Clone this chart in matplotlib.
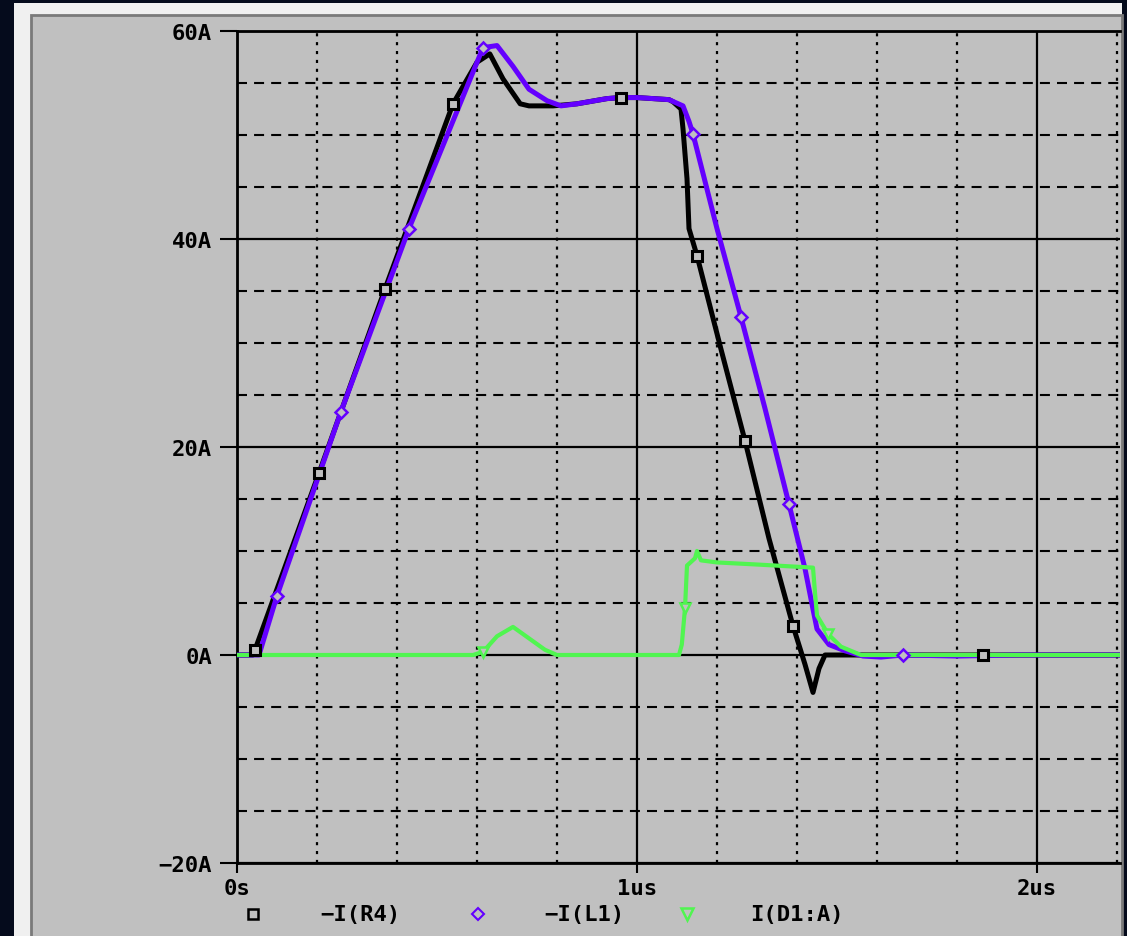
import matplotlib
matplotlib.use("Agg")
import matplotlib.pyplot as plt
from matplotlib.patches import Rectangle
from matplotlib.lines import Line2D
from matplotlib.ticker import MultipleLocator
import numpy as np

# -I(R4)  (time in us, current in A)
r4_t = [0, 0.04, 0.045, 0.205, 0.37, 0.54, 0.6, 0.632, 0.665, 0.708, 0.73, 0.79,
        0.85, 0.925, 0.96, 1.0, 1.08, 1.09, 1.11, 1.115, 1.125, 1.13, 1.15, 1.21,
        1.27, 1.33, 1.39, 1.42, 1.44, 1.455, 1.47, 1.6, 1.865, 2.25]
r4_i = [0, 0, 0.5, 17.5, 35.2, 53.0, 57.0, 57.8, 55.4, 53.0, 52.8, 52.8,
        53.0, 53.5, 53.6, 53.6, 53.4, 53.2, 52.5, 50.6, 45.8, 41.0, 38.4, 29.4,
        20.6, 11.2, 2.8, -0.9, -3.6, -1.3, 0, 0, 0, 0]
r4_marks = [0.045, 0.205, 0.37, 0.54, 0.96, 1.15, 1.27, 1.39, 1.865]

# -I(L1)
l1_t = [0, 0.055, 0.1, 0.26, 0.43, 0.615, 0.65, 0.69, 0.73, 0.775, 0.81, 0.85,
        0.925, 0.96, 1.0, 1.08, 1.115, 1.13, 1.14, 1.2, 1.26, 1.32, 1.38, 1.42,
        1.44, 1.45, 1.48, 1.52, 1.565, 1.61, 1.665, 1.8, 1.95, 2.25]
l1_i = [0, 0, 5.7, 23.4, 41.0, 58.4, 58.6, 56.6, 54.4, 53.3, 52.8, 53.0,
        53.5, 53.6, 53.6, 53.4, 52.8, 51.3, 50.1, 41.0, 32.5, 23.7, 14.5, 8.3,
        4.4, 2.5, 1.0, 0.4, -0.1, -0.2, 0, -0.1, 0, 0]
l1_marks = [0.1, 0.26, 0.43, 0.615, 1.14, 1.26, 1.38, 1.665]

# I(D1:A)
d1_t = [0, 0.59, 0.615, 0.65, 0.69, 0.73, 0.77, 0.8, 1.105, 1.112, 1.12, 1.125,
        1.145, 1.15, 1.16, 1.2, 1.3, 1.44, 1.445, 1.45, 1.478, 1.51, 1.56, 2.25]
d1_i = [0, 0, 0.3, 1.8, 2.7, 1.6, 0.5, 0, 0, 1.0, 4.5, 8.6,
        9.3, 10.0, 9.1, 8.9, 8.7, 8.4, 6.0, 3.8, 2.0, 0.8, 0, 0]
d1_marks = [0.615, 1.12, 1.478]

y_ticks = [-20, 0, 20, 40, 60]
y_labels = ["\u221220A", "0A", "20A", "40A", "60A"]
x_ticks = [0, 1, 2]
x_labels = ["0s", "1us", "2us"]
legend_names = ["\u2212I(R4)", "\u2212I(L1)", "I(D1:A)"]

W, H = 1127, 937
GREY = "#c0c0c0"
PURPLE = "#6400ff"
GREEN = "#50f550"

fig = plt.figure(figsize=(W / 100, H / 100), dpi=100)
fig.patch.set_facecolor("#050b1c")

def px(x0, y0, x1, y1):
    # pixel box -> figure fraction rectangle args
    return (x0 / W, 1 - y1 / H), (x1 - x0) / W, (y1 - y0) / H

xy, w, h = px(14, 4, 1122, 937)
fig.add_artist(Rectangle(xy, w, h, transform=fig.transFigure, facecolor="#f0f0f0", edgecolor="none", zorder=0))
xy, w, h = px(31, 16, 1122, 940)
fig.add_artist(Rectangle(xy, w, h, transform=fig.transFigure, facecolor=GREY, edgecolor="#7a7a7a", lw=2, zorder=0))

ax = fig.add_axes([237 / W, 1 - 864 / H, (1120 - 237) / W, (864 - 32) / H])
ax.set_facecolor(GREY)
ax.set_xlim(0, 883 / 400)
ax.set_ylim(-20, 60)

ax.plot(r4_t, r4_i, color="black", lw=3.6, zorder=3, solid_joinstyle="round")
ax.plot(l1_t, l1_i, color=PURPLE, lw=3.6, zorder=4, solid_joinstyle="round")
ax.plot(d1_t, d1_i, color=GREEN, lw=3.0, zorder=5)

ax.plot(r4_marks, np.interp(r4_marks, r4_t, r4_i), ls="none", marker="s", ms=7,
        mfc=GREY, mec="black", mew=2.2, zorder=7)
ax.plot(l1_marks, np.interp(l1_marks, l1_t, l1_i), ls="none", marker="D", ms=6,
        mfc=GREY, mec=PURPLE, mew=1.8, zorder=7)
ax.plot(d1_marks, np.interp(d1_marks, d1_t, d1_i), ls="none", marker="v", ms=7,
        mfc=GREY, mec=GREEN, mew=1.8, zorder=7)

ax.set_xticks(x_ticks)
ax.set_xticklabels(x_labels)
ax.set_yticks(y_ticks)
ax.set_yticklabels(y_labels)
ax.xaxis.set_minor_locator(MultipleLocator(0.2))
ax.yaxis.set_minor_locator(MultipleLocator(5))

font = dict(family="DejaVu Sans Mono", weight="bold", size=16)
for lab in ax.get_xticklabels() + ax.get_yticklabels():
    lab.set_fontfamily(font["family"])
    lab.set_fontweight("bold")
    lab.set_fontsize(font["size"])

ax.tick_params(axis="y", which="major", direction="out", length=12, width=1.5, pad=6)
ax.tick_params(axis="x", which="major", direction="out", length=7, width=1.5, pad=4)
ax.tick_params(which="minor", length=0)

ax.xaxis.grid(True, which="major", color="black", lw=1.6)
ax.yaxis.grid(True, which="major", color="black", lw=1.6)
ax.xaxis.grid(True, which="minor", color="black", lw=1.6, linestyle=(0, (1.4, 2.6)))
ax.yaxis.grid(True, which="minor", color="black", lw=1.5, linestyle=(0, (4.8, 3.4)))
ax.set_axisbelow(True)

for side in ["left", "bottom", "top"]:
    ax.spines[side].set_linewidth(2)
    ax.spines[side].set_color("black")
ax.spines["right"].set_visible(False)

# legend row under the axis
leg_y = 1 - 915 / H
fig.add_artist(Line2D([253 / W], [leg_y], marker="s", ms=7, mfc=GREY, mec="black", mew=1.8, transform=fig.transFigure))
fig.add_artist(Line2D([478 / W], [leg_y], marker="D", ms=6, mfc=GREY, mec=PURPLE, mew=1.5, transform=fig.transFigure))
fig.add_artist(Line2D([687 / W], [leg_y], marker="v", ms=8, mfc=GREY, mec=GREEN, mew=1.8, transform=fig.transFigure))
for name, cx in zip(legend_names, [360, 584, 797]):
    fig.text(cx / W, leg_y, name, ha="center", va="center", **font)

fig.savefig("out.png", dpi=100, facecolor=fig.get_facecolor())
